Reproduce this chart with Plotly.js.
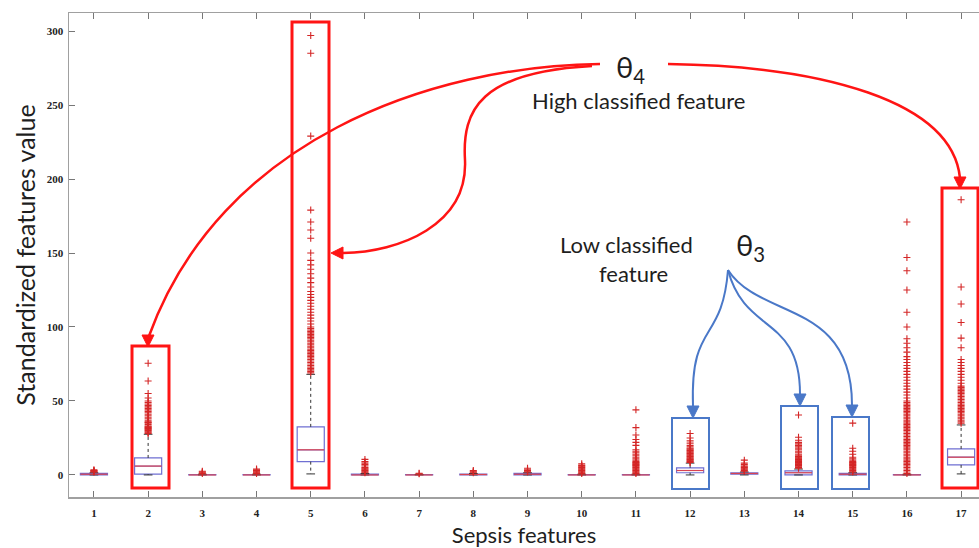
<!DOCTYPE html>
<html><head><meta charset="utf-8">
<script src="https://cdn.plot.ly/plotly-3.0.1.min.js"></script>
<style>html,body{margin:0;padding:0;background:#fff}</style></head>
<body><div id="chart" style="width:979px;height:548px"></div>
<script>
// ---- data ----
const features = [1,2,3,4,5,6,7,8,9,10,11,12,13,14,15,16,17];
const tickLabels = ['1','2','3','4','5','6','7','8','9','10','11','12','13','14','15','16','17'];
const q1     = [0, 0.5, 0, 0, 9,   0, 0, 0,   0,   0, 0, 1.5, 0.5, 0,   0,   0, 6.8];
const median = [0.5, 6, 0, 0, 17,  0, 0, 0.3, 0.5, 0, 0, 3,   1,   1.5, 0.5, 0, 12];
const q3     = [1, 11.5, 0.3, 0.3, 32.5, 0.5, 0.2, 0.6, 1, 0.3, 0.3, 4.8, 1.5, 2.8, 1, 0.3, 17.6];
const lowerWhisker = [0, 0, 0, 0, 0.7, 0, 0, 0, 0, 0, 0, 0, 0, 0, 0, 0, 0.7];
const upperWhisker = [1.5, 27.5, 0.5, 0.5, 68, 1, 0.4, 1, 1.5, 0.5, 0.5, 8, 2, 4, 1.5, 0.5, 33.8];
const outliers = [
  [2, 2.2, 2.5, 2.8, 3, 3.5],
  [28, 28.5, 29, 29.5, 30, 30.5, 31, 31.5, 32, 32.5, 33, 34, 35, 35.5, 36, 37, 38, 39, 40, 41, 42, 43, 44, 45, 46, 47, 48, 49, 50, 52, 55, 63.5, 75.5],
  [1, 1.5, 2, 2.5],
  [1, 1.5, 2, 2.5, 3, 3.5, 4],
  [69, 70, 71, 72, 73, 74, 75, 76, 77, 78, 79, 80, 81, 82, 83, 84, 85, 86, 87, 88, 89, 90, 91, 92, 93, 94, 95, 96, 97, 98, 99, 100, 102, 104, 106, 108, 110, 112, 114, 116, 118, 120, 122, 124, 127, 130, 133, 136, 139, 142, 145, 150, 160, 165.5, 171, 179, 229, 285, 297],
  [1.5, 2, 2.5, 3, 3.5, 4, 4.5, 5, 6, 7, 8, 9, 10.5],
  [0.8, 1.2],
  [1.5, 2, 2.5, 3],
  [2, 2.5, 3, 3.5, 4.5],
  [1, 1.5, 2, 2.5, 3, 3.5, 4, 4.5, 5, 5.5, 6, 6.5, 7.5],
  [1, 1.5, 2, 2.5, 3, 3.5, 4, 4.5, 5, 5.5, 6, 6.5, 7, 7.5, 8, 8.5, 9, 10, 11, 12, 13, 14, 15, 16, 17, 20, 22, 24, 27, 32, 44],
  [8.5, 9, 9.5, 10, 10.5, 11, 11.5, 12, 12.5, 13, 13.5, 14, 14.5, 15, 15.5, 16, 16.5, 17, 17.5, 18, 19, 20, 21.5, 23, 25, 28],
  [2.5, 3, 3.5, 4, 4.5, 5, 5.5, 6, 7, 8, 10],
  [4.5, 5, 5.5, 6, 6.5, 7, 7.5, 8, 8.5, 9, 9.5, 10, 10.5, 11, 11.5, 12, 12.5, 13, 14, 15, 16, 17, 18, 19, 20, 21, 22, 23.5, 25.5, 40.5],
  [2, 2.5, 3, 3.5, 4, 4.5, 5, 5.5, 6, 6.5, 7, 7.5, 8, 8.5, 9, 10, 11, 12, 14, 16, 18, 35],
  [1, 2, 3, 4, 5, 6, 7, 8, 9, 10, 11, 12, 13, 14, 15, 16, 17, 18, 19, 20, 21, 22, 23, 24, 25, 26, 27, 28, 29, 30, 31, 32, 33, 34, 35, 36, 37, 38, 39, 40, 41, 42, 43, 44, 45, 46, 47, 48, 49, 50, 52, 54, 56, 58, 60, 62, 64, 66, 68, 70, 72, 74, 76, 78, 80, 83, 86, 89, 92, 100, 110, 125, 138, 147, 171],
  [35, 36, 37, 38, 39, 40, 41, 42, 43, 44, 45, 46, 47, 48, 49, 50, 51, 52, 53, 54, 55, 56, 57, 58, 59, 60, 62, 64, 66, 68, 70, 72, 74, 76, 78, 86, 92.5, 103, 115.5, 127, 186]
];
const xTitle = 'Sepsis features';
const yTitle = 'Standardized features value';

// ---- styling ----
const BOX_BLUE = '#6f6fd2';
const MED_RED = 'rgba(235,60,60,0.85)';
const OUT_RED = '#d42626';
const HL_RED = '#ff1414';
const HL_BLUE = '#4a78c8';

// ---- traces ----
const boxTrace = {
  type: 'box', x: features, q1: q1, median: median, q3: q3,
  lowerfence: q1, upperfence: q3, width: 0.5, whiskerwidth: 0,
  boxpoints: false, fillcolor: 'rgba(0,0,0,0)',
  line: {color: BOX_BLUE, width: 1.2}, hoverinfo: 'skip'
};

const medX = [], medY = [], whX = [], whY = [], capX = [], capY = [], outX = [], outY = [];
features.forEach((f, i) => {
  medX.push(f - 0.25, f + 0.25, null); medY.push(median[i], median[i], null);
  whX.push(f, f, null, f, f, null);
  whY.push(q3[i], upperWhisker[i], null, q1[i], lowerWhisker[i], null);
  capX.push(f - 0.08, f + 0.08, null, f - 0.08, f + 0.08, null);
  capY.push(upperWhisker[i], upperWhisker[i], null, lowerWhisker[i], lowerWhisker[i], null);
  outliers[i].forEach(v => { outX.push(f); outY.push(v); });
});

const whiskerTrace = {type: 'scatter', mode: 'lines', x: whX, y: whY,
  line: {color: '#333', width: 1, dash: '3px,3px'}, hoverinfo: 'skip'};
const capTrace = {type: 'scatter', mode: 'lines', x: capX, y: capY,
  line: {color: '#333', width: 1}, hoverinfo: 'skip'};
const medTrace = {type: 'scatter', mode: 'lines', x: medX, y: medY,
  line: {color: MED_RED, width: 1.2}, hoverinfo: 'skip'};
const outTrace = {type: 'scatter', mode: 'markers', x: outX, y: outY,
  marker: {symbol: 'cross-thin', size: 5, color: OUT_RED, line: {color: OUT_RED, width: 1.1}},
  hoverinfo: 'y'};

// ---- decorations (pixel -> paper helpers) ----
const L = 69, T = 13, W = 910, H = 484;
const px = x => (x - L) / W;
const py = y => (T + H - y) / H;
function path(segs) {
  return segs.map(s => {
    const pts = [];
    for (let k = 1; k < s.length; k += 2) pts.push(px(s[k]).toFixed(5) + ',' + py(s[k + 1]).toFixed(5));
    return s[0] + ' ' + pts.join(' ');
  }).join(' ');
}
function rect(x0, y0, x1, y1, color, w) {
  return {type: 'rect', xref: 'paper', yref: 'paper', x0: px(x0), x1: px(x1), y0: py(y1), y1: py(y0),
    line: {color: color, width: w}, fillcolor: 'rgba(0,0,0,0)', layer: 'above'};
}
function curve(segs, color, w) {
  return {type: 'path', xref: 'paper', yref: 'paper', path: path(segs), line: {color: color, width: w}, layer: 'above'};
}
function headDown(tx, ty, color, s) {
  s = s || 6;
  return {type: 'path', xref: 'paper', yref: 'paper', path: path([['M', tx - s, ty - 2 * s], ['L', tx + s, ty - 2 * s], ['L', tx, ty]]) + ' Z',
    fillcolor: color, line: {color: color, width: 1}, layer: 'above'};
}
function headLeft(tx, ty, color, s) {
  s = s || 6;
  return {type: 'path', xref: 'paper', yref: 'paper', path: path([['M', tx + 2 * s, ty - s], ['L', tx + 2 * s, ty + s], ['L', tx, ty]]) + ' Z',
    fillcolor: color, line: {color: color, width: 1}, layer: 'above'};
}

const shapes = [
  rect(132, 346, 169, 488, HL_RED, 3),
  rect(292, 22, 329, 488, HL_RED, 3),
  rect(942, 188, 978, 488, HL_RED, 3),
  rect(672, 418, 709, 489, HL_BLUE, 2),
  rect(781, 406, 818, 489, HL_BLUE, 2),
  rect(832, 417, 869, 489, HL_BLUE, 2),
  curve([['M', 600, 64], ['C', 430, 66, 220, 140, 149, 336]], HL_RED, 2.5),
  curve([['M', 592, 66], ['C', 480, 72, 462, 110, 465, 160], ['C', 468, 225, 400, 252, 343, 253]], HL_RED, 2.5),
  curve([['M', 668, 64], ['C', 820, 66, 952, 100, 960, 178]], HL_RED, 2.5),
  headDown(148, 347, HL_RED), headLeft(331, 253, HL_RED), headDown(960, 189, HL_RED),
  curve([['M', 728, 270], ['C', 722, 345, 690, 320, 693, 406]], HL_BLUE, 2),
  curve([['M', 728, 270], ['C', 745, 335, 800, 315, 800, 394]], HL_BLUE, 2),
  curve([['M', 728, 270], ['C', 760, 320, 852, 300, 852, 405]], HL_BLUE, 2),
  headDown(693, 418, HL_BLUE), headDown(800, 406, HL_BLUE), headDown(852, 417, HL_BLUE)
];

const TXT = '#1e1e1e';
const FONT = 'Lato, "Noto Sans", sans-serif';
function label(x, y, text, size) {
  return {xref: 'paper', yref: 'paper', x: px(x), y: py(y), text: text, showarrow: false,
    xanchor: 'center', yanchor: 'middle', font: {family: FONT, size: size, color: TXT}};
}
const annotations = [
  label(630, 68, 'θ<sub>4</sub>', 29),
  label(638, 101, 'High classified feature', 22),
  label(626, 244, 'Low classified', 22),
  label(633, 273, 'feature', 22),
  label(750, 246, 'θ<sub>3</sub>', 29)
];

const axisFont = {family: '"Liberation Serif", "DejaVu Serif", serif', size: 11, color: '#222', weight: 'bold'};
const layout = {
  width: 979, height: 548,
  margin: {l: L, r: 979 - L - W, t: T, b: 548 - T - H, pad: 0},
  paper_bgcolor: '#fff', plot_bgcolor: '#fff',
  showlegend: false,
  xaxis: {
    range: [0.54, 17.33], tickmode: 'array', tickvals: features, ticktext: tickLabels,
    showgrid: false, zeroline: false, showline: true, linecolor: '#a0a0a0', linewidth: 1.5,
    mirror: 'ticks', ticks: 'inside', ticklen: 6, tickcolor: '#777', tickwidth: 1,
    tickfont: axisFont, ticklabelstandoff: 5,
    title: {text: xTitle, font: {family: FONT, size: 22, color: TXT}, standoff: 13}
  },
  yaxis: {
    range: [-14.9, 312.2], tickvals: [0, 50, 100, 150, 200, 250, 300],
    showgrid: false, zeroline: false, showline: true, linecolor: '#a0a0a0', linewidth: 1.5,
    ticks: 'inside', ticklen: 6, tickcolor: '#777', tickwidth: 1,
    tickfont: axisFont, ticklabelstandoff: 2,
    title: {text: yTitle, font: {family: FONT, size: 25, color: TXT}, standoff: 4}
  },
  shapes: shapes,
  annotations: annotations
};

Plotly.newPlot('chart', [boxTrace, whiskerTrace, capTrace, medTrace, outTrace], layout, {displayModeBar: false, staticPlot: true});
</script>
</body></html>
